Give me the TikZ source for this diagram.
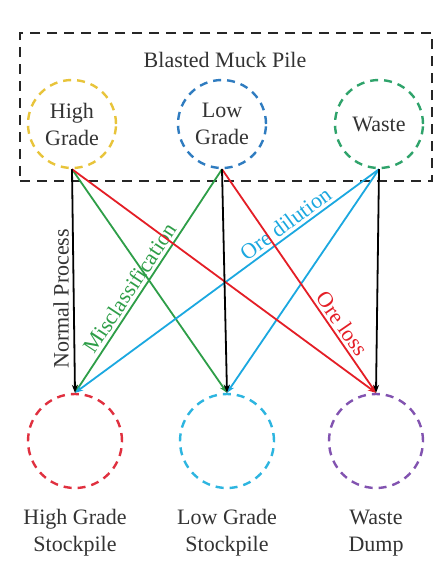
\documentclass[tikz,border=0pt]{standalone}
\usepackage{fontspec}
\setmainfont{Liberation Serif}
\usetikzlibrary{arrows.meta}
\definecolor{cyel}{HTML}{E8C43A}
\definecolor{cblu}{HTML}{2F7CC0}
\definecolor{cgrn}{HTML}{2FA36B}
\definecolor{cred}{HTML}{E0303F}
\definecolor{ccya}{HTML}{2DB5E0}
\definecolor{cpur}{HTML}{8253B0}
\definecolor{lgrn}{HTML}{2E9E48}
\definecolor{lred}{HTML}{E41E26}
\definecolor{lblu}{HTML}{1BA8E0}
\definecolor{txt}{HTML}{333333}
\begin{document}
\begin{tikzpicture}[x=1pt,y=1pt,
  every node/.style={font=\fontsize{22}{27}\selectfont, text=txt},
  circ/.style={circle, draw, line width=2.4pt, dash pattern=on 8pt off 6pt, minimum size=#1, inner sep=0pt, align=center},
  circ/.default=88pt,
  arr/.style={line width=1.8pt, -{Stealth[length=8pt,width=6pt]}},
  lab/.style={align=center}]
\useasboundingbox (0,0) rectangle (434,-562);
\fill[white] (0,0) rectangle (434,-562);
% muck pile box
\node[draw=black!85, line width=2.8pt, dash pattern=on 10pt off 7pt, minimum width=412pt, minimum height=148pt, inner sep=0pt] (box) at (226,-107) {};
\node (title) at (225,-60) {Blasted Muck Pile};
% top circles
\node[circ, draw=cyel] (hg) at (72,-124) {High\\Grade};
\node[circ, draw=cblu] (lg) at (222,-124) {Low\\Grade};
\node[circ, draw=cgrn] (wa) at (379,-124) {Waste};
% bottom circles
\node[circ=94pt, draw=cred] (hgs) at (75,-441) {};
\node[circ=94pt, draw=ccya] (lgs) at (227,-441) {};
\node[circ=94pt, draw=cpur] (wd) at (376,-441) {};
\node[lab] (hgsl) at (75,-533) {High Grade\\Stockpile};
\node[lab] (lgsl) at (227,-533) {Low Grade\\Stockpile};
\node[lab] (wdl) at (376,-533) {Waste\\Dump};
% arrows
\draw[arr, lgrn] (hg.south) -- (lgs.north);
\draw[arr, lgrn] (lg.south) -- node[pos=0.56, sloped, above, inner sep=3pt, text=lgrn] {Misclassification} (hgs.north);
\draw[arr, lblu] (wa.south) -- node[pos=0.285, sloped, above, inner sep=3pt, text=lblu] {Ore dilution} (hgs.north);
\draw[arr, lblu] (wa.south) -- (lgs.north);
\draw[arr, lred] (hg.south) -- (wd.north);
\draw[arr, lred] (lg.south) -- node[pos=0.72, sloped, above, inner sep=3pt, text=lred] {Ore loss} (wd.north);
\draw[arr, black] (hg.south) -- node[pos=0.58, rotate=90, anchor=south, inner sep=4pt] {Normal Process} (hgs.north);
\draw[arr, black] (lg.south) -- (lgs.north);
\draw[arr, black] (wa.south) -- (wd.north);
\end{tikzpicture}
\end{document}
